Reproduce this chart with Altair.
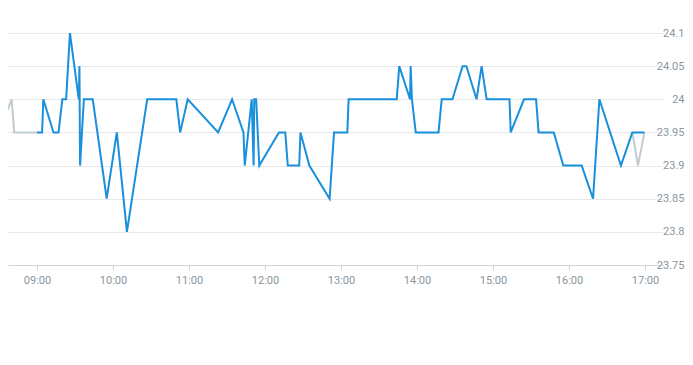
import altair as alt
import pandas as pd

# Main (blue) series: time (HH:MM[:SS]) and price
blue_times = ["09:00", "09:04", "09:05", "09:13", "09:17", "09:20", "09:23", "09:26",
              "09:33", "09:33:30", "09:34", "09:37", "09:44", "09:55", "10:03", "10:11",
              "10:27", "10:50", "10:53", "10:59", "11:23", "11:34", "11:43", "11:44",
              "11:49:30", "11:51", "11:51:30", "11:53", "11:55:30", "12:11", "12:16", "12:18",
              "12:27", "12:28", "12:35", "12:51", "12:54:30", "13:05", "13:06", "13:44",
              "13:46", "13:54:30", "13:55", "13:56", "13:59", "14:17", "14:19:30", "14:28",
              "14:36", "14:39", "14:47", "14:51", "14:55", "15:13", "15:14", "15:24:30",
              "15:34", "15:36", "15:48", "15:55:30", "16:10", "16:19", "16:24", "16:41",
              "16:50", "16:59:30"]
blue_values = [23.95, 23.95, 24.0, 23.95, 23.95, 24.0, 24.0, 24.1,
               24.0, 24.05, 23.9, 24.0, 24.0, 23.85, 23.95, 23.8,
               24.0, 24.0, 23.95, 24.0, 23.95, 24.0, 23.95, 23.9,
               24.0, 23.9, 24.0, 24.0, 23.9, 23.95, 23.95, 23.9,
               23.9, 23.95, 23.9, 23.85, 23.95, 23.95, 24.0, 24.0,
               24.05, 24.0, 24.05, 24.0, 23.95, 23.95, 24.0, 24.0,
               24.05, 24.05, 24.0, 24.05, 24.0, 24.0, 23.95, 24.0,
               24.0, 23.95, 23.95, 23.9, 23.9, 23.85, 24.0, 23.9,
               23.95, 23.95]

# Secondary (gray) series: before and after the main session
gray_pre_times = ["08:30", "08:40", "08:42", "09:00"]
gray_pre_values = [23.95, 24.0, 23.95, 23.95]
gray_post_times = ["16:50", "16:54:30", "16:59:30"]
gray_post_values = [23.95, 23.9, 23.95]

y_ticks = [23.75, 23.8, 23.85, 23.9, 23.95, 24.0, 24.05, 24.1]

DAY = "2024-01-02T"


def ts(t):
    return DAY + (t if len(t) == 8 else t + ":00")


rows = []
for t, v in zip(gray_pre_times, gray_pre_values):
    rows.append({"time": ts(t), "price": v, "seg": "pre", "kind": "gray"})
for t, v in zip(gray_post_times, gray_post_values):
    rows.append({"time": ts(t), "price": v, "seg": "post", "kind": "gray"})
for t, v in zip(blue_times, blue_values):
    rows.append({"time": ts(t), "price": v, "seg": "main", "kind": "blue"})
df = pd.DataFrame(rows)

x_enc = alt.X(
    "time:T",
    scale=alt.Scale(domain=[
        alt.DateTime(year=2024, month=1, date=2, hours=8, minutes=37, seconds=6),
        alt.DateTime(year=2024, month=1, date=2, hours=17, minutes=14, seconds=13),
    ]),
    axis=alt.Axis(
        title=None, format="%H:%M", grid=False, tickCount="hour",
        domainColor="#cfd4d8", tickColor="#cfd4d8", tickSize=5,
        labelColor="#8a96a1", labelFontSize=11, labelFont="Roboto",
        labelPadding=4,
    ),
)
y_enc = alt.Y(
    "price:Q",
    scale=alt.Scale(domain=[23.75, 24.1], nice=False, zero=False),
    axis=alt.Axis(
        title=None, orient="right", values=y_ticks, format=".2~f",
        domain=False, ticks=False,
        gridColor="#e6e8ea", labelAlign="right", labelPadding=21,
        labelColor="#8a96a1", labelFontSize=11, labelFont="Roboto",
    ),
)

gray = alt.Chart(df[df["kind"] == "gray"]).mark_line(
    color="#c2cbd0", strokeWidth=2, clip=True
).encode(x=x_enc, y=y_enc, detail="seg:N")

blue = alt.Chart(df[df["kind"] == "blue"]).mark_line(
    color="#1890dc", strokeWidth=2, clip=True
).encode(x=x_enc, y=y_enc)

chart = alt.layer(gray, blue).properties(
    width=655, height=232,
    autosize=alt.AutoSizeParams(type="none"),
    padding={"left": 0, "top": 25, "right": 22, "bottom": 60},
).configure_view(stroke=None)

chart.save("out.html", embed_options={"renderer": "svg", "actions": False})
